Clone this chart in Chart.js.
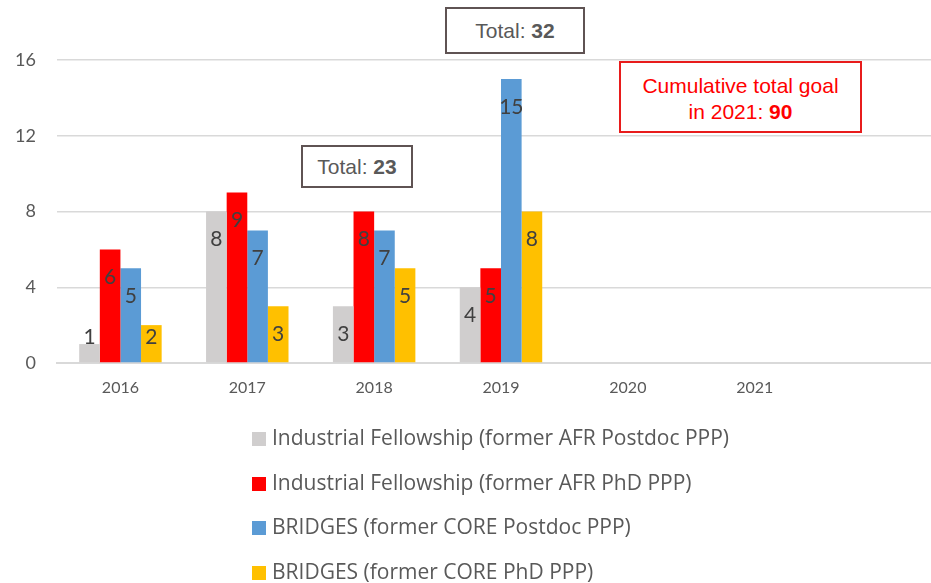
<!DOCTYPE html>
<html>
<head>
<meta charset="utf-8">
<title>Fellowships per year</title>
<script src="https://cdn.jsdelivr.net/npm/chart.js@4.4.1/dist/chart.umd.min.js"></script>
<style>
  body { margin: 0; background: #fff; overflow: hidden; }
  #wrap { position: relative; width: 945px; height: 583px; }
  .note {
    position: absolute;
    box-sizing: border-box;
    font-family: "Liberation Sans", Arial, sans-serif;
    text-align: center;
    background: #fff;
  }
  .total { border: 2px solid #5f5353; color: #595959; font-size: 21px; }
  .goal { border: 2px solid #e81c1c; color: #ff0000; font-size: 21px; line-height: 26px; padding-top: 10px; }
  #legend {
    position: absolute; left: 252px; top: 415px;
    font-family: "Open Sans", sans-serif; font-size: 21px; color: #595959;
  }
  #legend div { height: 44.7px; line-height: 44px; white-space: nowrap; }
  #legend span { display: inline-block; width: 14px; height: 14px; margin-right: 6px; vertical-align: -1px; }
</style>
</head>
<body>
<div id="wrap">
  <canvas id="chart" width="945" height="583"></canvas>
  <div class="note total" id="total2018" style="left:301px; top:145px; width:112px; height:43px; line-height:39px;"></div>
  <div class="note total" id="total2019" style="left:445px; top:7px; width:140px; height:47px; line-height:43px;"></div>
  <div class="note goal" id="goal" style="left:619px; top:61px; width:243px; height:72px;"></div>
  <div id="legend"></div>
</div>
<script>
// categories (last slot left empty on purpose)
const years = ['2016', '2017', '2018', '2019', '2020', '2021', ''];

const afrPostdoc = [1, 8, 3, 4, null, null, null];
const afrPhd = [6, 9, 8, 5, null, null, null];
const corePostdoc = [5, 7, 7, 15, null, null, null];
const corePhd = [2, 3, 5, 8, null, null, null];

const seriesNames = [
    'Industrial Fellowship (former AFR Postdoc PPP)',
    'Industrial Fellowship (former AFR PhD PPP)',
    'BRIDGES (former CORE Postdoc PPP)',
    'BRIDGES (former CORE PhD PPP)'
];
const seriesColors = ['#d0cece', '#ff0000', '#5b9bd5', '#ffc000'];

const yMin = 0;
const yMax = 16;
const yStep = 4;
const goal2021 = 90;

const allSeries = [afrPostdoc, afrPhd, corePostdoc, corePhd];

function yearTotal(year) {
    const i = years.indexOf(year);
    return allSeries.reduce((sum, s) => sum + (s[i] || 0), 0);
}

// value labels sit a little under the bar top, but never below the axis baseline
const barValues = {
    id: 'barValues',
    afterDatasetsDraw(chart) {
        const ctx = chart.ctx;
        const base = chart.scales.y.getPixelForValue(0);
        ctx.save();
        ctx.font = '21px Lato, "Open Sans", sans-serif';
        ctx.fillStyle = '#404040';
        ctx.textAlign = 'center';
        ctx.textBaseline = 'middle';
        chart.data.datasets.forEach((ds, di) => {
            chart.getDatasetMeta(di).data.forEach((bar, i) => {
                const v = ds.data[i];
                if (v === null || v === undefined) return;
                const y = Math.min(bar.y + 28, base - 26);
                ctx.fillText(String(v), bar.x, y);
            });
        });
        ctx.restore();
    }
};

const chart = new Chart(document.getElementById('chart'), {
    type: 'bar',
    data: {
        labels: years,
        datasets: allSeries.map((s, i) => ({
            label: seriesNames[i],
            data: s,
            backgroundColor: seriesColors[i],
            borderWidth: 0,
            categoryPercentage: 0.65,
            barPercentage: 1.0
        }))
    },
    options: {
        responsive: false,
        animation: false,
        layout: { padding: { top: 60, right: 0, bottom: 180, left: 0 } },
        plugins: {
            legend: { display: false },
            tooltip: { enabled: false }
        },
        scales: {
            x: {
                grid: { display: false },
                border: { display: true, color: '#d9d9d9', width: 2 },
                ticks: {
                    color: '#595959',
                    font: { family: 'Lato, "Open Sans", sans-serif', size: 16 },
                    padding: 7
                },
                afterFit(scale) { scale.height = 40; }
            },
            y: {
                min: yMin,
                max: yMax,
                grid: { color: '#d9d9d9', lineWidth: 1.5, drawTicks: false },
                border: { display: false },
                ticks: {
                    stepSize: yStep,
                    color: '#595959',
                    font: { family: 'Lato, "Open Sans", sans-serif', size: 18 },
                    padding: 21
                },
                afterFit(scale) { scale.width = 57; }
            }
        }
    },
    plugins: [barValues]
});

// notes and legend
document.getElementById('total2018').innerHTML = 'Total: <b>' + yearTotal('2018') + '</b>';
document.getElementById('total2019').innerHTML = 'Total: <b>' + yearTotal('2019') + '</b>';
document.getElementById('goal').innerHTML = 'Cumulative total goal<br>in 2021: <b>' + goal2021 + '</b>';

const legend = document.getElementById('legend');
chart.data.datasets.forEach(ds => {
    const row = document.createElement('div');
    const box = document.createElement('span');
    box.style.background = ds.backgroundColor;
    row.appendChild(box);
    row.appendChild(document.createTextNode(ds.label));
    legend.appendChild(row);
});
</script>
</body>
</html>
